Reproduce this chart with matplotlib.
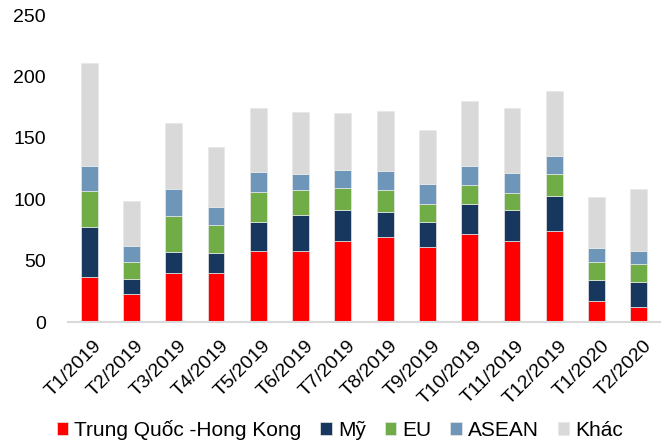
import matplotlib
matplotlib.use("Agg")
import matplotlib.pyplot as plt
import matplotlib.transforms as mtransforms
import numpy as np

plt.rcParams['font.family'] = ['Liberation Sans', 'DejaVu Sans']

months = ['T1/2019', 'T2/2019', 'T3/2019', 'T4/2019', 'T5/2019', 'T6/2019', 'T7/2019',
          'T8/2019', 'T9/2019', 'T10/2019', 'T11/2019', 'T12/2019', 'T1/2020', 'T2/2020']

china_hk = [37.0, 22.5, 39.6, 39.9, 57.5, 57.5, 65.7, 69.5, 60.8, 71.7, 66.0, 73.8, 16.8, 11.9]
my = [40.7, 12.3, 17.7, 16.0, 24.2, 29.9, 25.5, 20.3, 20.4, 24.4, 25.5, 29.1, 17.7, 20.7]
eu = [29.3, 14.3, 28.8, 23.3, 23.9, 19.8, 18.2, 17.7, 15.2, 15.2, 13.3, 17.9, 14.6, 14.4]
asean = [19.9, 12.8, 21.9, 14.7, 16.7, 13.6, 14.7, 15.2, 16.2, 16.0, 16.8, 14.1, 11.4, 11.1]
khac = [84.2, 36.4, 54.3, 48.6, 52.2, 50.5, 45.8, 49.1, 43.8, 52.7, 52.9, 53.5, 41.0, 50.5]

series = [
    ('Trung Quốc -Hong Kong', china_hk, '#FF0000'),
    ('Mỹ', my, '#17375E'),
    ('EU', eu, '#70AD47'),
    ('ASEAN', asean, '#6E96B8'),
    ('Khác', khac, '#D9D9D9'),
]

fig = plt.figure(figsize=(6.64, 4.43), dpi=100)
ax = fig.add_axes([0.1024, 0.273, 0.8916, 0.693])

x = np.arange(len(months))
bottom = np.zeros(len(months))
for name, vals, color in series:
    ax.bar(x, vals, width=0.4, bottom=bottom, color=color, label=name,
           edgecolor='#E8E8E8', linewidth=0.5)
    bottom += np.array(vals)

ax.set_xlim(-0.5, len(months) - 0.5)
ax.set_ylim(0, 250)
ax.set_yticks([0, 50, 100, 150, 200, 250])
ax.set_xticks(x)
ax.set_xticklabels(months, rotation=45, ha='right', rotation_mode='anchor')
ax.tick_params(axis='both', length=0, labelsize=14, colors='black')
ax.tick_params(axis='y', pad=16)
ax.tick_params(axis='x', pad=11)
# nudge rotated labels a little to the right, like the original
shift = mtransforms.ScaledTranslation(4 / 100, 0, fig.dpi_scale_trans)
for lbl in ax.get_xticklabels():
    lbl.set_transform(lbl.get_transform() + shift)

for s in ['top', 'right', 'left']:
    ax.spines[s].set_visible(False)
ax.spines['bottom'].set_color('#D9D9D9')
ax.spines['bottom'].set_linewidth(1.5)

fig.legend(loc='lower center', bbox_to_anchor=(0.512, -0.035), ncol=5, frameon=False,
           fontsize=15, handlelength=0.55, handleheight=0.55, handletextpad=0.3,
           columnspacing=0.9)

fig.savefig('out.png', dpi=100)
